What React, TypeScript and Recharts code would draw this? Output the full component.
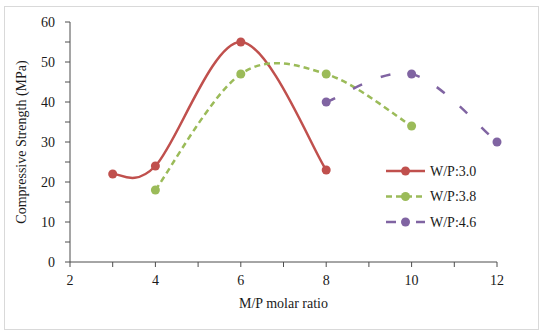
import React from "react";
import { LineChart, Line, XAxis, YAxis, Legend } from "recharts";

const xTicks = [2, 3, 4, 5, 6, 7, 8, 9, 10, 11, 12];
const yTicks = [0, 5, 10, 15, 20, 25, 30, 35, 40, 45, 50, 55, 60];

const wp30Ratio = [3, 4, 6, 8];
const wp30Strength = [22, 24, 55, 23];
const wp38Ratio = [4, 6, 8, 10];
const wp38Strength = [18, 47, 47, 34];
const wp46Ratio = [8, 10, 12];
const wp46Strength = [40, 47, 30];

const seriesNames = ["W/P:3.0", "W/P:3.8", "W/P:4.6"];

const FONT = "'Liberation Serif', 'Times New Roman', serif";
const AXIS = "#4d4d4d";
const TEXT = "#1a1a1a";

const toPoints = (xs: number[], ys: number[]) =>
  xs.map((ratio, i) => ({ ratio, strength: ys[i] }));

const series = [
  { name: seriesNames[0], data: toPoints(wp30Ratio, wp30Strength), color: "#c0504d", dash: undefined as string | undefined },
  { name: seriesNames[1], data: toPoints(wp38Ratio, wp38Strength), color: "#9bbb59", dash: "6 4" },
  { name: seriesNames[2], data: toPoints(wp46Ratio, wp46Strength), color: "#8064a2", dash: "10 20" },
];

// spreadsheet-style smoothing: Catmull-Rom segments drawn as cubic Béziers,
// end points duplicated so the curve starts/ends on the markers
const smoothCurve = (context: any) => {
  let pts: number[][] = [];
  return {
    areaStart() {},
    areaEnd() {},
    lineStart() {
      pts = [];
    },
    lineEnd() {
      const n = pts.length;
      if (!n) return;
      context.moveTo(pts[0][0], pts[0][1]);
      for (let i = 0; i < n - 1; i++) {
        const p0 = pts[Math.max(i - 1, 0)];
        const p1 = pts[i];
        const p2 = pts[i + 1];
        const p3 = pts[Math.min(i + 2, n - 1)];
        context.bezierCurveTo(
          p1[0] + (p2[0] - p0[0]) / 6,
          p1[1] + (p2[1] - p0[1]) / 6,
          p2[0] - (p3[0] - p1[0]) / 6,
          p2[1] - (p3[1] - p1[1]) / 6,
          p2[0],
          p2[1]
        );
      }
    },
    point(x: number, y: number) {
      pts.push([+x, +y]);
    },
  };
};

const renderLegend = () => (
  <svg width={100} height={70} style={{ display: "block" }}>
    {series.map((s, i) => (
      <g key={s.name} transform={`translate(0, ${10 + i * 25.5})`}>
        <line x1={0} x2={39} y1={0} y2={0} stroke={s.color} strokeWidth={2.5} strokeDasharray={s.dash} />
        <circle cx={19.5} cy={0} r={4.5} fill={s.color} />
        <text x={44} y={0} dy="0.35em" fontSize={14} fontFamily={FONT} fill={TEXT}>
          {s.name}
        </text>
      </g>
    ))}
  </svg>
);

export default function App() {
  return (
    <div style={{ position: "absolute", left: 0, top: 0, width: 540, height: 333, background: "#fff" }}>
      <div
        style={{
          position: "absolute",
          left: 4,
          top: 6,
          width: 535,
          height: 324,
          boxSizing: "border-box",
          border: "1px solid #d9d9d9",
        }}
      />
      <LineChart
        width={540}
        height={333}
        margin={{ top: 22, right: 43, bottom: 21, left: 20 }}
        style={{ position: "absolute", left: 0, top: 0 }}
      >
        <XAxis
          dataKey="ratio"
          type="number"
          domain={[2, 12]}
          ticks={xTicks}
          interval={0}
          height={50}
          tickSize={5}
          tickMargin={8}
          tickFormatter={(v: number) => (v % 2 === 0 ? String(v) : "")}
          axisLine={{ stroke: AXIS, strokeWidth: 1 }}
          tickLine={{ stroke: AXIS }}
          tick={{ fontSize: 14, fontFamily: FONT, fill: TEXT }}
          label={{ value: "M/P molar ratio", position: "insideBottom", offset: 4, fontSize: 14, fontFamily: FONT, fill: TEXT }}
        />
        <YAxis
          type="number"
          domain={[0, 60]}
          ticks={yTicks}
          interval={0}
          width={50}
          tickSize={5}
          tickMargin={10}
          tickFormatter={(v: number) => (v % 10 === 0 ? String(v) : "")}
          axisLine={{ stroke: AXIS, strokeWidth: 1 }}
          tickLine={{ stroke: AXIS }}
          tick={{ fontSize: 14, fontFamily: FONT, fill: TEXT }}
          label={{
            value: "Compressive Strength (MPa)",
            angle: -90,
            position: "center",
            dx: -24,
            fontSize: 14,
            fontFamily: FONT,
            fill: TEXT,
          }}
        />
        {series.map((s) => (
          <Line
            key={s.name}
            name={s.name}
            data={s.data}
            dataKey="strength"
            type={smoothCurve as any}
            stroke={s.color}
            strokeWidth={2.5}
            strokeDasharray={s.dash}
            dot={{ r: 4.5, fill: s.color, stroke: "none", strokeDasharray: "none" }}
            activeDot={false}
            isAnimationActive={false}
          />
        ))}
        <Legend
          layout="vertical"
          align="center"
          verticalAlign="middle"
          content={renderLegend}
          wrapperStyle={{ position: "absolute", left: 386, top: 161, width: 100, height: 70 }}
        />
      </LineChart>
    </div>
  );
}
